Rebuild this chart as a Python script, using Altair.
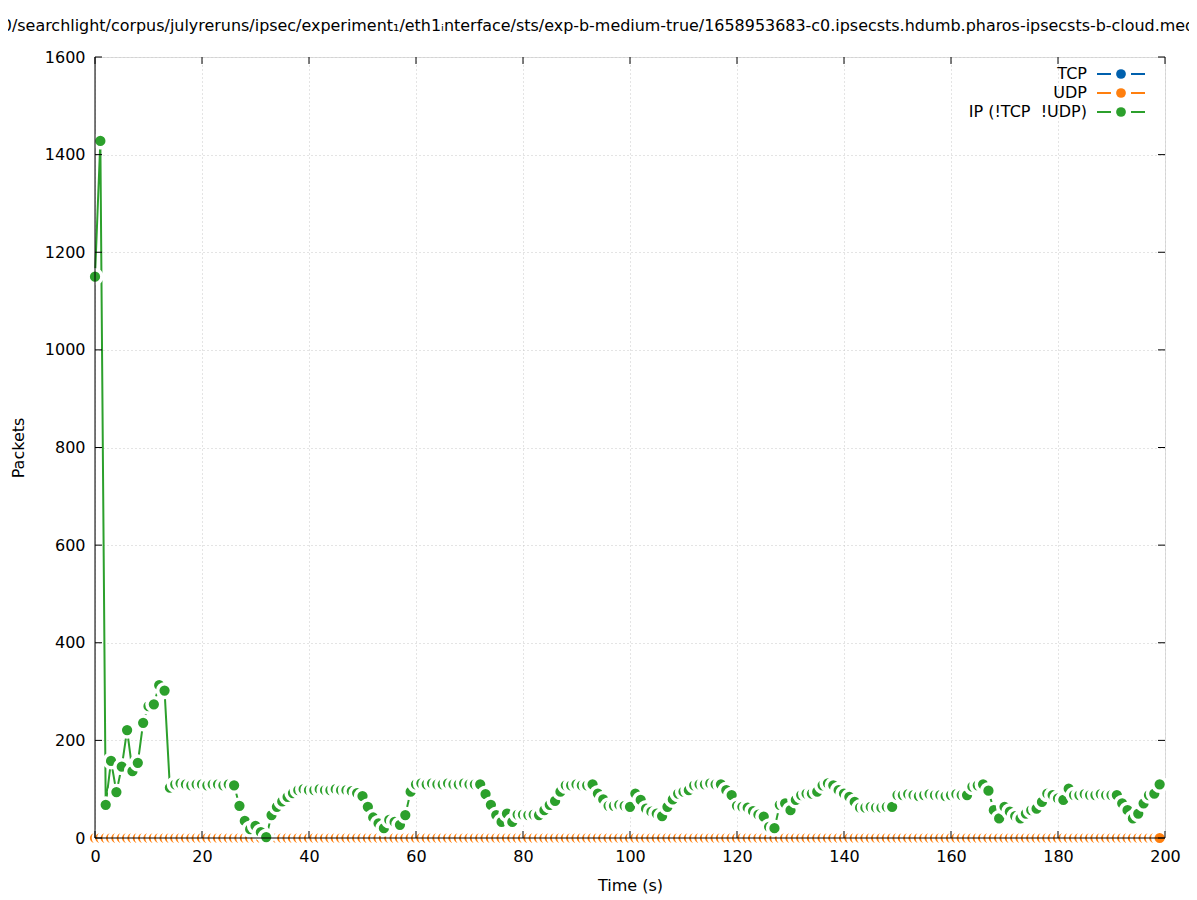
import altair as alt
import pandas as pd

# ---------------- data ----------------
time_s = list(range(200))
tcp = [0] * 200          # all zero (hidden beneath UDP)
udp = [0] * 200          # all zero
ip_other = [
    1150, 1428, 68, 158, 94, 146, 221, 137, 154, 236,
    270, 274, 313, 302, 103, 110, 112, 110, 108, 110,
    110, 108, 110, 110, 108, 110, 108, 66, 35, 18,
    25, 12, 2, 47, 64, 75, 84, 92, 98, 100,
    98, 98, 100, 98, 98, 100, 98, 98, 96, 92,
    86, 64, 42, 30, 20, 37, 33, 27, 47, 95,
    110, 112, 110, 112, 110, 110, 112, 110, 110, 112,
    110, 110, 110, 90, 68, 47, 33, 50, 33, 48,
    48, 47, 48, 47, 57, 68, 76, 95, 108, 108,
    110, 108, 108, 110, 91, 79, 66, 66, 68, 66,
    64, 91, 78, 60, 54, 50, 45, 64, 79, 91,
    95, 98, 108, 110, 110, 112, 110, 110, 98, 88,
    66, 64, 62, 55, 48, 44, 23, 20, 68, 71,
    57, 78, 88, 91, 91, 95, 108, 112, 108, 98,
    91, 84, 74, 62, 62, 64, 62, 62, 64, 64,
    88, 88, 90, 88, 86, 88, 90, 88, 88, 86,
    88, 90, 88, 88, 105, 108, 110, 97, 57, 40,
    64, 54, 45, 40, 50, 57, 60, 74, 91, 88,
    81, 78, 101, 88, 88, 90, 88, 88, 90, 88,
    88, 88, 71, 57, 40, 50, 71, 88, 91, 110,
]

series_names = ["TCP", "UDP", "IP (!TCP \u00a0!UDP)"]
series_colors = ["#0060ad", "#ff7f0e", "#2ca02c"]
series_values = [tcp, udp, ip_other]

x_ticks = [0, 20, 40, 60, 80, 100, 120, 140, 160, 180, 200]
y_ticks = [0, 200, 400, 600, 800, 1000, 1200, 1400, 1600]

title_text = ("0/searchlight/corpus/julyreruns/ipsec/experiment\u2081/eth1\u1d62nterface/sts/"
              "exp-b-medium-true/1658953683-c0.ipsecsts.hdumb.pharos-ipsecsts-b-cloud.med")

# ---------------- layout ----------------
W, H = 1070, 781
FONT = "DejaVu Sans"
FS = 16
TICK = 7

xscale = alt.Scale(domain=[0, 200], nice=False, zero=False)
yscale = alt.Scale(domain=[0, 1600], nice=False)

xaxis = alt.Axis(values=x_ticks, format="d", grid=True, gridDash=[1, 3], gridColor="#c8c8c8", gridWidth=1,
                 domain=False, ticks=False, labelFontSize=FS, labelPadding=10, labelFlush=False,
                 labelColor="black", labelFont=FONT, labelOverlap=False,
                 title="Time (s)", titleFont=FONT, titleFontSize=FS, titleFontWeight="normal",
                 titleColor="black", titleX=W / 2, titleY=47, titleBaseline="middle",
                 titleAlign="center", zindex=0)
yaxis = alt.Axis(values=y_ticks, format="d", grid=True, gridDash=[1, 3], gridColor="#c8c8c8", gridWidth=1,
                 domain=False, ticks=False, labelFontSize=FS, labelPadding=10,
                 labelColor="black", labelFont=FONT, labelOverlap=False, labelFlush=False,
                 title="Packets", titleFont=FONT, titleFontSize=FS, titleFontWeight="normal",
                 titleColor="black", titleX=-77, titleY=H / 2, titleAngle=270,
                 titleBaseline="middle", titleAlign="center", zindex=0)


def X():
    return alt.X("t:Q", scale=xscale, axis=xaxis)


def Y():
    return alt.Y("v:Q", scale=yscale, axis=yaxis)


layers = []
for name, color, vals in zip(series_names, series_colors, series_values):
    df = pd.DataFrame({"t": time_s, "v": vals})
    base = alt.Chart(df)
    layers.append(base.mark_line(color=color, strokeWidth=2, clip=False).encode(x=X(), y=Y()))
    # coloured disc (r~6) with a white ring out to r~9.5, drawn point after point
    layers.append(base.mark_point(shape="circle", filled=True, fill=color, stroke="white",
                                  strokeWidth=3.5, size=189, opacity=1, fillOpacity=1,
                                  strokeOpacity=1, clip=False).encode(x=X(), y=Y()))

# inward ticks (mirrored on all four sides)
xt = alt.Chart(pd.DataFrame({"t": x_ticks}))
yt = alt.Chart(pd.DataFrame({"v": y_ticks}))
layers.append(xt.mark_rule(color="black", strokeWidth=1).encode(x=X(), y=alt.value(H), y2=alt.value(H - TICK)))
layers.append(xt.mark_rule(color="black", strokeWidth=1).encode(x=X(), y=alt.value(0), y2=alt.value(TICK)))
layers.append(yt.mark_rule(color="black", strokeWidth=1).encode(y=Y(), x=alt.value(0), x2=alt.value(TICK)))
layers.append(yt.mark_rule(color="black", strokeWidth=1).encode(y=Y(), x=alt.value(W - TICK), x2=alt.value(W)))

# border lines (left and bottom), drawn in front of the data
one = alt.Chart(pd.DataFrame({"k": [0]}))
layers.append(one.mark_rule(color="black", strokeWidth=1).encode(x=alt.value(0), y=alt.value(0), y2=alt.value(H)))
layers.append(one.mark_rule(color="black", strokeWidth=1).encode(x=alt.value(0), x2=alt.value(W), y=alt.value(H)))

# legend (label left, line-point-line sample right)
for i, (name, color) in enumerate(zip(series_names, series_colors)):
    ly = 17 + 19 * i
    ld = alt.Chart(pd.DataFrame({"label": [name]}))
    layers.append(ld.mark_text(align="right", baseline="middle", font=FONT, fontSize=FS, color="black")
                  .encode(text="label:N", x=alt.value(992), y=alt.value(ly)))
    layers.append(ld.mark_rule(color=color, strokeWidth=2).encode(x=alt.value(1002), x2=alt.value(1016), y=alt.value(ly)))
    layers.append(ld.mark_rule(color=color, strokeWidth=2).encode(x=alt.value(1036), x2=alt.value(1050), y=alt.value(ly)))
    layers.append(ld.mark_point(shape="circle", filled=True, fill=color, size=95, opacity=1, strokeWidth=0)
                  .encode(x=alt.value(1026), y=alt.value(ly)))

# title
td = alt.Chart(pd.DataFrame({"title": [title_text]}))
layers.append(td.mark_text(align="center", baseline="alphabetic", font=FONT, fontSize=15.95, color="black")
              .encode(text="title:N", x=alt.value(503.5), y=alt.value(-26)))

chart = (
    alt.layer(*layers)
    .properties(width=W, height=H, autosize=alt.AutoSizeParams(type="none"),
                padding={"left": 87, "top": 49, "right": 24, "bottom": 58})
    .configure_view(stroke=None)
    .configure(font=FONT, background="white")
)

chart.save("out.html", embed_options={"renderer": "svg", "actions": False})
